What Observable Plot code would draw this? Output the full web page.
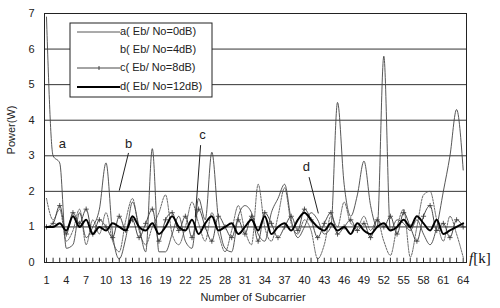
<!DOCTYPE html>
<html><head><meta charset="utf-8">
<script src="https://cdn.jsdelivr.net/npm/d3@7"></script>
<script src="https://cdn.jsdelivr.net/npm/@observablehq/plot@0.6"></script>
<style>body{margin:0;background:#fff}svg{display:block}</style>
</head><body><div id="chart"></div>
<script>
const subcarriers = d3.range(1, 65);
const xTickLabels = [1,4,7,10,13,16,19,22,25,28,31,34,37,40,43,46,49,52,55,58,61,64];
const yTickLabels = [0,1,2,3,4,5,6,7];
const seriesNames = ["a(Eb/No=0dB)","b(Eb/No=4dB)","c(Eb/No=8dB)","d(Eb/No=12dB)"];
const legendLabels = ["a( Eb/ No=0dB)","b( Eb/ No=4dB)","c( Eb/ No=8dB)","d( Eb/ No=12dB)"];
const seriesA = [6.9,3.0,2.8,0.4,0.5,1.4,0.7,1.0,1.5,2.8,0.8,0.1,0.7,1.7,1.0,0.3,3.2,0.3,0.3,0.8,1.3,0.6,0.4,1.8,1.2,3.1,1.2,0.4,0.3,1.3,1.6,1.4,0.8,0.6,1.4,1.8,2.2,1.2,0.7,1.0,1.4,1.2,0.8,1.0,4.5,2.2,1.3,1.9,2.85,1.6,1.0,5.8,0.9,1.2,1.1,0.9,1.2,0.8,0.5,1.0,2.0,3.0,4.3,2.6];
const seriesB = [1.8,1.2,1.5,0.6,0.9,1.5,0.5,1.2,0.8,1.4,0.6,0.3,1.2,1.8,0.9,0.5,1.0,1.4,1.9,0.8,0.5,1.0,1.7,1.1,0.6,1.4,0.8,0.3,0.9,1.6,0.9,0.5,2.2,1.0,0.6,1.3,2.1,1.1,0.8,1.2,0.9,0.1,0.5,1.3,1.0,1.7,1.1,1.0,1.3,0.9,1.2,0.6,0.2,1.0,1.5,0.15,1.0,1.9,2.0,1.2,0.6,1.3,0.8,0.15];
const seriesC = [1.0,1.1,1.6,0.8,1.4,1.1,1.5,0.8,1.2,1.0,0.7,1.3,0.9,1.2,0.7,1.1,1.5,0.6,1.2,1.4,0.9,1.3,0.7,1.5,1.0,0.6,1.3,1.0,0.7,1.2,0.8,1.3,0.6,1.4,1.1,0.7,1.0,1.3,0.9,1.5,1.2,0.7,1.1,1.4,0.8,1.0,1.2,0.9,1.1,0.7,1.2,1.0,1.3,0.8,1.4,1.0,0.6,1.3,1.6,0.9,1.1,0.7,1.2,1.0];
const seriesD = [1.0,1.0,1.1,0.9,1.3,1.0,1.2,0.8,1.0,0.9,1.1,1.0,0.9,1.3,1.0,0.9,1.1,0.8,1.0,1.3,1.0,0.9,1.2,0.8,1.1,1.3,0.9,1.0,1.1,0.8,1.0,1.2,0.9,1.3,0.8,1.0,1.1,0.9,1.2,1.4,1.2,1.0,0.9,1.1,0.9,1.0,0.8,1.1,0.9,0.8,1.0,1.1,0.9,1.0,1.2,1.0,1.3,1.1,0.9,1.2,0.8,0.9,1.0,1.1];
const annoLabels = ["a","b","c","d"];
const annoX = [3.4,13.4,24.6,40.3];
const annoY = [3.35,3.35,3.58,2.7];
const pointerX1 = [13.4,24.3,40.7], pointerY1 = [3.08,3.3,2.4];
const pointerX2 = [12.0,23.5,42.1], pointerY2 = [2.02,1.27,1.38];

const rows = (vals, s) => vals.map((v, i) => ({k: subcarriers[i], p: v, s}));
const A = rows(seriesA, seriesNames[0]), B = rows(seriesB, seriesNames[1]),
      C = rows(seriesC, seriesNames[2]), D = rows(seriesD, seriesNames[3]);
const anno = annoLabels.map((t, i) => ({t, x: annoX[i], y: annoY[i]}));
const ptr = pointerX1.map((x, i) => ({x1: x, y1: pointerY1[i], x2: pointerX2[i], y2: pointerY2[i]}));

const font = "Liberation Sans, Arial, sans-serif";
const chart = Plot.plot({
  width: 500, height: 308,
  marginLeft: 44, marginRight: 34, marginTop: 13, marginBottom: 46,
  style: {fontFamily: font, fontSize: "11px", color: "#222", background: "#fff"},
  x: {domain: [0.7, 64.5]},
  y: {domain: [0, 7]},
  marks: [
    Plot.ruleY(yTickLabels.slice(1, 7), {stroke: "#333", strokeWidth: 1}),
    Plot.ruleX(subcarriers, {y1: 0, y2: 0.12, stroke: "#333"}),
    Plot.axisX({ticks: xTickLabels, tickSize: 0, tickPadding: 14, label: null, fontSize: 11, tickFormat: d3.format("d")}),
    Plot.axisY({ticks: yTickLabels, tickSize: 0, tickPadding: 10, label: null, fontSize: 11, tickFormat: d3.format("d")}),
    Plot.line(B, {x: "k", y: "p", stroke: "#555", strokeWidth: 0.9, strokeDasharray: "2,1.2", curve: "monotone-x"}),
    Plot.line(C, {x: "k", y: "p", stroke: "#333", strokeWidth: 0.9, curve: "monotone-x"}),
    Plot.dot(C, {x: "k", y: "p", symbol: "plus", r: 1.8, stroke: "#333", strokeWidth: 0.8}),
    Plot.line(A, {x: "k", y: "p", stroke: "#444", strokeWidth: 0.9, curve: "monotone-x"}),
    Plot.line(D, {x: "k", y: "p", stroke: "#000", strokeWidth: 2, curve: "monotone-x"}),
    Plot.link(ptr, {x1: "x1", y1: "y1", x2: "x2", y2: "y2", stroke: "#222", strokeWidth: 1}),
    Plot.text(anno, {x: "x", y: "y", text: "t", fontSize: 13, fill: "#222", fontFamily: font}),
    Plot.frame({stroke: "#222", strokeWidth: 1})
  ]
});
document.getElementById("chart").appendChild(chart);

const svg = d3.select(chart);
svg.append("text").attr("transform", "translate(12,130) rotate(-90)")
  .attr("text-anchor", "middle").attr("dominant-baseline", "middle")
  .attr("font-family", font).attr("font-size", 11).attr("fill", "#222").text("Power(W)");
svg.append("text").attr("x", 253).attr("y", 301).attr("text-anchor", "middle")
  .attr("font-family", font).attr("font-size", 11).attr("fill", "#222").text("Number of Subcarrier");
const fk = svg.append("text").attr("x", 469).attr("y", 263).attr("text-anchor", "start")
  .attr("font-family", "Liberation Serif, Times New Roman, serif")
  .attr("font-size", 15).attr("fill", "#111");
fk.append("tspan").attr("font-style", "italic").text("f");
fk.append("tspan").text("[k]");

const lg = svg.append("g");
lg.append("rect").attr("x", 70).attr("y", 23).attr("width", 142).attr("height", 74)
  .attr("fill", "#fff").attr("stroke", "#222").attr("stroke-width", 1);
const rowY = [32, 50, 68, 87];
legendLabels.forEach((t, i) => {
  if (i === 0) lg.append("line").attr("x1", 77).attr("x2", 120).attr("y1", rowY[i]).attr("y2", rowY[i]).attr("stroke", "#444").attr("stroke-width", 0.9);
  if (i === 2) {
    lg.append("line").attr("x1", 77).attr("x2", 120).attr("y1", rowY[i]).attr("y2", rowY[i]).attr("stroke", "#333").attr("stroke-width", 0.9);
    lg.append("line").attr("x1", 99).attr("x2", 99).attr("y1", rowY[i] - 2).attr("y2", rowY[i] + 2).attr("stroke", "#333").attr("stroke-width", 0.9);
  }
  if (i === 3) lg.append("line").attr("x1", 77).attr("x2", 120).attr("y1", rowY[i]).attr("y2", rowY[i]).attr("stroke", "#000").attr("stroke-width", 2);
  lg.append("text").attr("x", 120).attr("y", rowY[i]).attr("text-anchor", "start").attr("dominant-baseline", "middle")
    .attr("font-family", font).attr("font-size", 11).attr("fill", "#222").text(t);
});
</script></body></html>
